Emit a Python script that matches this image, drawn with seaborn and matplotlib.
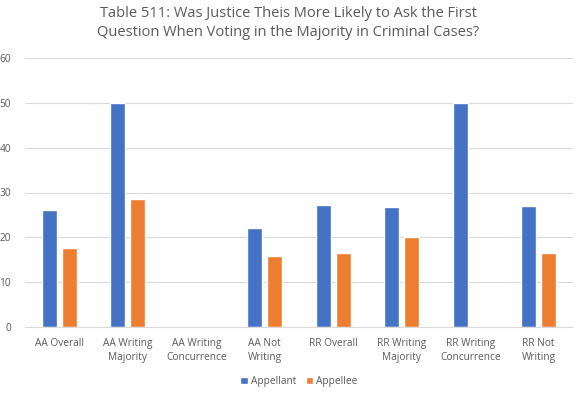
import matplotlib
matplotlib.use("Agg")
import matplotlib.pyplot as plt
import pandas as pd
import seaborn as sns

categories = [
    "AA Overall",
    "AA Writing\nMajority",
    "AA Writing\nConcurrence",
    "AA Not\nWriting",
    "RR Overall",
    "RR Writing\nMajority",
    "RR Writing\nConcurrence",
    "RR Not\nWriting",
]
appellant = [26.1, 50.0, 0.0, 22.0, 27.3, 26.7, 50.0, 27.0]
appellee = [17.7, 28.5, 0.0, 15.9, 16.5, 20.0, 0.0, 16.4]
series = ["Appellant", "Appellee"]
colors = ["#4472C4", "#ED7D31"]

df = pd.DataFrame({
    "Category": categories * 2,
    "Value": appellant + appellee,
    "Series": [series[0]] * len(categories) + [series[1]] * len(categories),
})

sns.set_style("white")
plt.rcParams["font.family"] = ["Open Sans", "DejaVu Sans"]

fig = plt.figure(figsize=(5.77, 3.97), dpi=100)
ax = fig.add_axes([25 / 577, 70.3 / 397, 548 / 577, 268.4 / 397])

sns.barplot(
    data=df, x="Category", y="Value", hue="Series", palette=colors,
    width=0.58, gap=0.25, ax=ax, legend=True, saturation=1,
)

ax.set_ylim(0, 60)
ax.set_yticks(range(0, 61, 10))
ax.set_xlim(-0.5, len(categories) - 0.5)
ax.yaxis.grid(True, color="#D9D9D9", linewidth=0.8)
ax.set_axisbelow(True)
for s in ["top", "right", "left"]:
    ax.spines[s].set_visible(False)
ax.spines["bottom"].set_color("#D9D9D9")
ax.set_xlabel("")
ax.set_ylabel("")
ax.tick_params(axis="both", length=0, labelsize=7.3, colors="#595959")
ax.tick_params(axis="x", pad=8)
ax.tick_params(axis="y", pad=10)
for lbl in ax.get_xticklabels():
    lbl.set_linespacing(1.45)

ax.legend(
    loc="center", bbox_to_anchor=(0.5, -0.205), ncol=2, frameon=False,
    fontsize=7.3, labelcolor="#595959", handlelength=0.7, handleheight=0.7,
    handletextpad=0.3, columnspacing=1.0,
)

fig.suptitle(
    "Table 511: Was Justice Theis More Likely to Ask the First\n"
    "Question When Voting in the Majority in Criminal Cases?",
    fontsize=10.5, color="#595959", y=0.985, linespacing=1.35,
)

fig.savefig("out.png", dpi=100)
